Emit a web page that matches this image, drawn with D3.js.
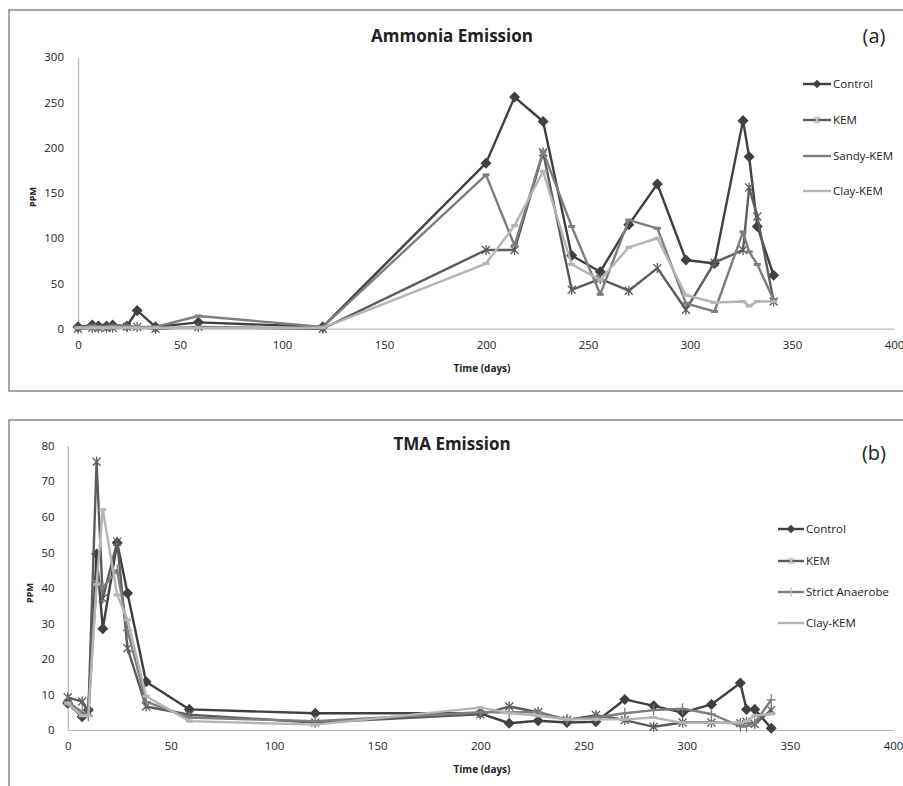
<!DOCTYPE html>
<html lang="en">
<head>
<meta charset="utf-8">
<title>Ammonia and TMA emission</title>
<script src="https://cdn.jsdelivr.net/npm/d3@7"></script>
<style>
  body { margin: 0; background: #fff; }
  text { font-family: "Open Sans", "Liberation Sans", sans-serif; fill: #222; }
</style>
</head>
<body>
<script>
// sampling days (same for both panels)
var days = [0, 7, 10, 14, 17, 24, 29, 38, 59, 120, 200, 214, 228, 242, 256, 270, 284, 298, 312, 326, 329, 333, 341];

// (a) ammonia, PPM
var nh3Control = [2, 4, 3, 3, 4, 3, 20, 2, 7, 2, 183, 256, 229, 81, 63, 115, 160, 76, 72, 230, 190, 113, 59];
var nh3KEM     = [0, 1, 1, 1, 1, 2, 2, 0, 2, 0, 87, 87, 195, 43, 55, 42, 67, 21, 73, 87, 156, 124, 30];
var nh3Sandy   = [1, 3, 2, 2, 3, 3, 2, 2, 14, 2, 170, 92, 196, 113, 38, 120, 111, 28, 19, 107, 85, 71, 32];
var nh3Clay    = [1, 1, 1, 1, 1, 1, 1, 1, 1, 1, 72, 114, 174, 71, 54, 90, 100, 37, 29, 30, 25, 30, 30];

// (b) TMA, PPM
var tmaControl = [7.5, 3.7, 5.6, 49.5, 28.5, 52.7, 38.5, 13.6, 5.8, 4.7, 4.7, 1.9, 2.6, 2.1, 2.3, 8.6, 6.8, 4.9, 7.2, 13.2, 5.8, 5.8, 0.5];
var tmaKEM     = [9.2, 8, 5, 75.5, 37, 53, 23, 6.6, 4.3, 2.1, 4.4, 6.6, 5, 2.8, 4.2, 2.8, 0.9, 2.1, 2.1, 1.9, 2.3, 1.7, 5.6];
var tmaStrict  = [8, 5, 4, 42, 40, 45, 28, 8, 3.5, 2.5, 5, 5, 5, 3, 3.5, 4.7, 5.6, 6, 4.5, 1, 1, 2, 8.5];
var tmaClay    = [7.5, 4, 4, 41, 62, 38, 31, 9.5, 2.5, 1.5, 6.3, 4.8, 4, 3, 3, 3, 3.5, 2, 2, 2, 2.5, 4, 4.5];

var xTicks = [0, 50, 100, 150, 200, 250, 300, 350, 400];

var w = 903, h = 786;

var svg = d3.select("body").append("svg")
    .attr("width", w)
    .attr("height", h);

// marker shapes (excel like)
var markers = {
    diamond: "M0,-4.6L4.6,0L0,4.6L-4.6,0Z",
    star: "M-4,-4L4,4M-4,4L4,-4M0,-5L0,5",
    plus: "M-4.5,0L4.5,0M0,-5.5L0,5.5",
    dash: "M-3.5,0L3.5,0"
};
var legendMarkers = {
    diamond: "M0,-3.4L3.4,0L0,3.4L-3.4,0Z",
    star: "M-3,-3L3,3M-3,3L3,-3M0,-3.8L0,3.8",
    plus: "M0,-4.5L0,4.5",
    dash: null
};

function drawPanel(p) {
    var g = svg.append("g");

    g.append("rect")
        .attr("x", p.box[0]).attr("y", p.box[1])
        .attr("width", p.box[2]).attr("height", p.box[3])
        .attr("fill", "none")
        .attr("stroke", "#8a8a8a")
        .attr("stroke-width", 1.5);

    var x = d3.scaleLinear().domain([0, 400]).range(p.xRange);
    var y = d3.scaleLinear().domain([0, p.yMax]).range(p.yRange);

    // axes, excel style: thin grey lines, no ticks
    var xAxis = d3.axisBottom(x).tickValues(xTicks).tickSize(0).tickPadding(12);
    var yAxis = d3.axisLeft(y).tickValues(p.yTicks).tickSize(0).tickPadding(p.yPad);

    var gx = g.append("g")
        .attr("transform", "translate(0," + p.yRange[0] + ")")
        .call(xAxis);
    var gy = g.append("g")
        .attr("transform", "translate(" + p.xRange[0] + ",0)")
        .call(yAxis);
    [gx, gy].forEach(function(a) {
        a.select(".domain").attr("stroke", "#b8b8b8").attr("stroke-width", 1.2);
        a.selectAll("text")
            .attr("font-family", "'Open Sans', sans-serif")
            .attr("font-size", "11.5px")
            .attr("fill", "#333");
    });

    // series
    var line = d3.line()
        .x(function(d) { return x(d[0]); })
        .y(function(d) { return y(d[1]); });

    p.series.forEach(function(s) {
        var pts = days.map(function(d, i) { return [d, s.values[i]]; });
        g.append("path")
            .datum(pts)
            .attr("fill", "none")
            .attr("stroke", s.color)
            .attr("stroke-width", 2.4)
            .attr("stroke-linejoin", "round")
            .attr("d", line);

        g.selectAll(null)
            .data(pts)
            .enter()
            .append("path")
            .attr("transform", function(d) { return "translate(" + x(d[0]) + "," + y(d[1]) + ")"; })
            .attr("d", markers[s.marker])
            .attr("fill", s.marker === "diamond" ? s.color : "none")
            .attr("stroke", s.color)
            .attr("stroke-width", s.marker === "dash" ? 3 : 1.3);
    });

    // titles
    g.append("text")
        .attr("x", 452).attr("y", p.titleY)
        .attr("text-anchor", "middle")
        .attr("font-size", "17px")
        .attr("font-weight", "bold")
        .attr("fill", "#111")
        .text(p.title);

    g.append("text")
        .attr("x", 874).attr("y", p.tagY)
        .attr("text-anchor", "middle")
        .attr("font-family", "'Liberation Sans', Arial, sans-serif")
        .attr("font-size", "20px")
        .attr("fill", "#111")
        .text(p.tag);

    g.append("text")
        .attr("x", 482).attr("y", p.xLabelY)
        .attr("text-anchor", "middle")
        .attr("font-size", "10px")
        .attr("font-weight", "bold")
        .text("Time (days)");

    g.append("text")
        .attr("transform", "translate(" + p.yLabelX + "," + p.yLabelY + ") rotate(-90)")
        .attr("text-anchor", "middle")
        .attr("font-size", "9px")
        .attr("font-weight", "bold")
        .text("PPM");

    // legend
    var lg = g.selectAll(".legend")
        .data(p.series)
        .enter()
        .append("g")
        .attr("transform", function(d, i) { return "translate(" + p.legendX + "," + p.legendRows[i] + ")"; });

    lg.append("line")
        .attr("x1", 0).attr("x2", p.legendLen)
        .attr("stroke", function(d) { return d.color; })
        .attr("stroke-width", 2.4);
    lg.append("path")
        .attr("transform", "translate(" + (p.legendLen / 2) + ",0)")
        .attr("d", function(d) { return legendMarkers[d.marker]; })
        .attr("fill", function(d) { return d.marker === "diamond" ? d.color : "none"; })
        .attr("stroke", function(d) { return d.marker === "diamond" ? d.color : "#bbb"; })
        .attr("stroke-width", 1.2);
    lg.append("text")
        .attr("x", p.legendLen + 2)
        .attr("dy", "0.35em")
        .attr("font-size", "11.5px")
        .attr("fill", "#222")
        .text(function(d) { return d.name; });
}

drawPanel({
    box: [9, 10, 900, 381],
    xRange: [78, 894],
    yRange: [328.7, 57.3],
    yMax: 300,
    yTicks: [0, 50, 100, 150, 200, 250, 300],
    yPad: 14,
    title: "Ammonia Emission",
    titleY: 42,
    tag: "(a)",
    tagY: 43,
    xLabelY: 372,
    yLabelX: 36,
    yLabelY: 197,
    legendX: 803,
    legendLen: 28,
    legendRows: [84, 120, 156, 191],
    series: [
        { name: "Control",   values: nh3Control, color: "#404040", marker: "diamond" },
        { name: "KEM",       values: nh3KEM,     color: "#5c5c5c", marker: "star" },
        { name: "Sandy-KEM", values: nh3Sandy,   color: "#7e7e7e", marker: "dash" },
        { name: "Clay-KEM",  values: nh3Clay,    color: "#b5b5b5", marker: "dash" }
    ]
});

drawPanel({
    box: [9, 420, 900, 400],
    xRange: [67.7, 893],
    yRange: [730, 445.7],
    yMax: 80,
    yTicks: [0, 10, 20, 30, 40, 50, 60, 70, 80],
    yPad: 13,
    title: "TMA Emission",
    titleY: 450,
    tag: "(b)",
    tagY: 460,
    xLabelY: 773,
    yLabelX: 33,
    yLabelY: 593,
    legendX: 778,
    legendLen: 26,
    legendRows: [529, 561, 592, 623],
    series: [
        { name: "Control",         values: tmaControl, color: "#404040", marker: "diamond" },
        { name: "KEM",             values: tmaKEM,     color: "#5c5c5c", marker: "star" },
        { name: "Strict Anaerobe", values: tmaStrict,  color: "#7e7e7e", marker: "plus" },
        { name: "Clay-KEM",        values: tmaClay,    color: "#b5b5b5", marker: "dash" }
    ]
});
</script>
</body>
</html>
